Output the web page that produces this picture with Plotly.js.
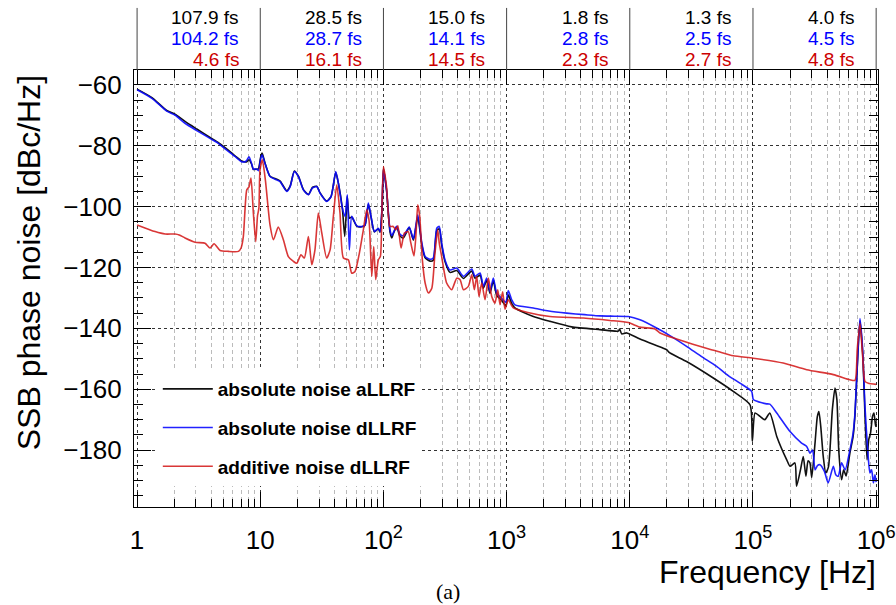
<!DOCTYPE html>
<html><head><meta charset="utf-8">
<script src="https://cdn.plot.ly/plotly-3.0.1.min.js"></script>
<style>html,body{margin:0;padding:0;background:#fff}#chart{width:896px;height:605px}</style>
</head><body><div id="chart"></div>
<script>
// ---- data ----
const seriesNames = ['absolute noise aLLRF', 'absolute noise dLLRF', 'additive noise dLLRF'];

const freqAbsA = [1.0,1.32,1.74,2.03,2.45,3.05,4.03,4.57,5.18,6.24,7.08,7.7,8.11,8.5,8.79,9.3,9.66,10.1,10.35,10.9,12.0,13.6,14.5,16.4,17.5,18.9,20.4,22.4,24.6,26.5,28.7,30.6,34.6,37.6,41.0,43.1,46.4,48.5,50.9,52.9,55.3,60.7,66.7,70.9,75.4,79.3,84.4,90.9,93.8,97.5,100,106,113,117,120,128,136,145,162,175,190,205,218,239,254,271,284,297,316,347,394,446,521,554,609,647,689,733,780,831,912,985,1032,1099,1169,1648,2250,3370,5730,8070,8270,8590,9430,12100,18700,19900,21000,28900,47600,69200,94600,98800,104000,114000,125000,137000,156000,188000,200000,219000,226000,243000,256000,269000,280000,290000,300000,319000,333000,343000,355000,372000,390000,410000,441000,463000,480000,497000,524000,545000,570000,612000,650000,673000,702000,739000,777000,811000,843000,870000,900000,935000,960000,990000,1000000];
const noiseAbsA = [-61.4,-64.2,-68.4,-69.6,-72.0,-74.5,-77.6,-79.0,-80.6,-83.3,-85.0,-85.3,-84.6,-86.0,-87.8,-87.7,-87.6,-83.5,-82.4,-85.5,-90.0,-91.0,-91.6,-94.8,-93.2,-88.3,-90.0,-94.4,-96.0,-93.7,-93.3,-95.5,-98.2,-96.6,-88.7,-92.4,-100.6,-109.8,-96.8,-103.8,-103.4,-106.4,-106.6,-106.1,-99.2,-103.4,-108.3,-107.3,-108.4,-100.5,-87.5,-94.7,-108.3,-110.3,-109.0,-106.6,-109.6,-110.3,-106.9,-111.0,-103.5,-112.6,-116.8,-117.9,-117.6,-107.8,-107.3,-112.6,-118.0,-121.6,-121.0,-123.6,-121.2,-123.5,-122.5,-126.8,-124.2,-128.5,-124.3,-129.2,-130.8,-132.6,-129.0,-131.8,-133.3,-136.1,-137.7,-139.5,-140.4,-140.9,-140.2,-141.8,-141.5,-143.5,-146.5,-147.0,-148.0,-150.9,-156.3,-160.7,-165.1,-177.1,-167.8,-168.9,-170.0,-167.8,-175.5,-183.2,-185.3,-184.2,-191.9,-186.5,-182.1,-188.6,-183.5,-184.2,-189.0,-177.7,-169.0,-167.3,-172.2,-182.1,-187.5,-185.5,-166.7,-159.6,-163.4,-180.0,-189.7,-186.5,-188.5,-181.0,-175.5,-168.5,-153.0,-137.5,-148.0,-168.0,-183.2,-176.6,-174.4,-168.9,-167.8,-172.2,-170.5];

const freqAbsD = [1.0,1.32,1.74,2.03,2.45,3.05,4.03,4.57,5.18,6.24,7.08,7.7,8.11,8.5,8.79,9.3,9.66,10.1,10.35,10.9,12.0,13.6,14.5,16.4,17.5,18.9,20.4,22.4,24.6,26.5,28.7,30.6,34.6,37.6,41.0,43.1,46.4,48.8,50.9,52.9,55.3,60.7,66.7,70.9,75.4,79.3,84.4,90.9,93.8,97.5,100,106,113,117,120,128,136,145,162,175,190,205,218,239,254,271,284,297,316,347,394,446,521,554,609,647,689,733,780,831,930,985,1032,1099,1169,1648,2200,3077,4300,5730,7500,9730,12100,16500,21000,28900,38000,50700,63000,78400,97500,100700,114000,129000,137000,156000,200000,248000,273000,290000,305000,319000,335000,350000,380000,408000,449000,470000,492000,524000,560000,612000,650000,673000,702000,739000,777000,811000,863000,890000,919000,950000,978000,1000000];
const noiseAbsD = [-61.6,-64.4,-68.6,-69.9,-72.6,-75.0,-77.9,-79.2,-81.0,-83.5,-85.3,-85.0,-83.6,-85.8,-87.7,-87.6,-88.2,-84.0,-83.0,-85.7,-90.1,-91.2,-91.8,-95.0,-93.4,-88.5,-90.1,-94.5,-96.1,-93.9,-93.4,-95.6,-98.3,-96.7,-88.5,-92.3,-100.5,-103.2,-96.1,-114.2,-103.2,-106.3,-106.5,-106.0,-98.8,-103.2,-108.2,-107.1,-108.2,-100.0,-87.8,-94.5,-107.6,-109.5,-108.7,-106.5,-109.0,-109.6,-106.7,-110.6,-102.7,-112.0,-116.4,-117.3,-116.9,-107.1,-106.5,-112.0,-117.5,-120.8,-120.2,-122.9,-120.5,-122.9,-121.8,-126.2,-123.5,-127.9,-123.5,-128.4,-130.5,-131.5,-127.6,-130.6,-132.3,-133.3,-134.3,-135.0,-135.5,-135.9,-136.0,-136.1,-137.2,-139.9,-142.3,-145.9,-149.2,-152.5,-155.5,-158.0,-160.7,-163.4,-164.3,-164.8,-164.9,-167.8,-173.9,-177.7,-178.8,-181.0,-180.0,-186.5,-185.0,-184.8,-187.0,-190.8,-185.3,-188.1,-188.6,-184.2,-186.5,-180.0,-174.4,-167.8,-152.5,-136.8,-147.0,-165.6,-182.5,-187.5,-186.5,-190.8,-188.1,-190.5];

const freqAdd = [1.0,1.40,1.69,2.03,2.2,2.45,2.96,3.56,3.91,4.22,4.72,5.51,6.64,7.0,7.29,7.77,8.1,8.41,8.79,9.19,9.5,9.75,9.95,10.4,11.0,12.0,12.8,14.0,15.4,16.9,18.6,19.8,21.4,22.8,24.6,26.2,27.8,29.6,31.6,34.6,36.9,39.2,41.8,44.4,47.3,51.9,55.3,58.8,64.5,68.7,73.1,76.4,80.4,83.4,86.6,90.9,94.4,97,100,106,113,120,126,131,139,148,159,167,177,184,190,197,207,218,232,247,262,276,284,297,326,358,394,419,446,489,521,547,572,597,628,668,711,757,805,847,884,929,970,1032,1135,1456,2250,4200,6900,9730,12100,16000,17600,24000,36900,45900,52000,69200,100700,176000,273000,449000,612000,673000,702000,739000,777000,811000,863000,1000000];
const noiseAdd = [-106.0,-108.2,-109.0,-109.0,-109.3,-110.3,-111.7,-112.0,-113.6,-112.2,-114.4,-114.7,-114.7,-113.5,-109.8,-94.5,-93.5,-90.6,-102.1,-111.5,-103.0,-100.5,-88.0,-84.6,-91.2,-106.0,-110.9,-106.7,-110.9,-116.4,-118.0,-118.6,-115.8,-116.9,-109.8,-119.1,-114.2,-102.1,-108.7,-116.9,-114.2,-103.2,-92.8,-102.1,-116.9,-117.5,-121.9,-121.3,-114.2,-107.6,-101.0,-104.5,-122.9,-113.1,-124.0,-117.5,-116.4,-103.0,-86.8,-93.4,-106.5,-106.5,-107.6,-106.3,-113.6,-108.7,-108.2,-112.0,-116.2,-108.7,-99.4,-103.2,-117.5,-125.1,-128.4,-126.8,-115.3,-107.6,-112.0,-116.4,-125.1,-127.3,-123.5,-124.0,-127.3,-126.2,-122.4,-127.3,-122.9,-129.5,-125.1,-130.6,-123.5,-129.5,-131.7,-127.3,-132.2,-128.0,-133.7,-130.6,-133.3,-134.7,-136.1,-136.6,-137.4,-138.1,-139.6,-140.2,-141.5,-143.5,-145.9,-147.0,-147.6,-149.0,-149.8,-151.4,-153.6,-155.2,-156.9,-157.1,-147.0,-138.3,-149.2,-157.4,-158.0,-158.4];

// integrated jitter per decade (top labels)
const decadeEdges = [1, 10, 100, 1e3, 1e4, 1e5, 1e6];
const jitterAbsA = [107.9, 28.5, 15.0, 1.8, 1.3, 4.0];
const jitterAbsD = [104.2, 28.7, 14.1, 2.8, 2.5, 4.5];
const jitterAdd  = [4.6, 16.1, 14.5, 2.3, 2.7, 4.8];

const xTickText = ['1', '10', '10<sup>2</sup>', '10<sup>3</sup>', '10<sup>4</sup>', '10<sup>5</sup>', '10<sup>6</sup>'];
const yTicks = [-60, -80, -100, -120, -140, -160, -180];

// ---- styling ----
const colBlack = '#111111', colBlue = 'rgba(10,10,255,0.9)', colRed = 'rgba(210,20,20,0.85)';
const txtBlack = '#000000', txtBlue = '#0000ff', txtRed = '#cc0000';
const FONT = 'Liberation Sans, Arial, Helvetica, sans-serif';

const traces = [
  {x: freqAbsA, y: noiseAbsA, name: seriesNames[0], color: colBlack},
  {x: freqAbsD, y: noiseAbsD, name: seriesNames[1], color: colBlue},
  {x: freqAdd,  y: noiseAdd,  name: seriesNames[2], color: colRed}
].map((s, i) => ({
  type: 'scatter', mode: 'lines', x: s.x, y: s.y, name: s.name,
  legendgroup: 'g' + i,
  line: {color: s.color, width: 1.6, shape: 'spline', smoothing: 0.6}
}));

const minorVals = [];
decadeEdges.slice(0, -1).forEach(d => { for (let k = 2; k <= 9; k++) minorVals.push(d * k); });

const annotations = [];
const rows = [[jitterAbsA, txtBlack, 1.121], [jitterAbsD, txtBlue, 1.071], [jitterAdd, txtRed, 1.023]];
rows.forEach(([vals, col, yy]) => {
  vals.forEach((v, i) => {
    annotations.push({
      xref: 'x', yref: 'paper', x: Math.log10(decadeEdges[i + 1]) - 0.16, y: yy,
      xanchor: 'right', yanchor: 'middle', showarrow: false,
      text: v.toFixed(1) + ' fs', font: {family: FONT, size: 19, color: col}
    });
  });
});
annotations.push({xref: 'paper', yref: 'paper', x: 1, y: -0.149, xanchor: 'right', yanchor: 'middle',
  showarrow: false, text: 'Frequency [Hz]', font: {family: FONT, size: 32, color: '#000'}});
annotations.push({xref: 'paper', yref: 'paper', x: -0.141, y: 0.558, xanchor: 'center', yanchor: 'middle',
  textangle: -90, showarrow: false, text: 'SSB phase noise [dBc/Hz]', font: {family: FONT, size: 32, color: '#000'}});
annotations.push({xref: 'paper', yref: 'paper', x: 0.422, y: -0.1945, xanchor: 'center', yanchor: 'middle',
  showarrow: false, text: '(a)', font: {family: 'Liberation Serif, Times New Roman, serif', size: 22, color: '#000'}});

const shapes = decadeEdges.map(d => ({
  type: 'line', xref: 'x', yref: 'paper', x0: d, x1: d, y0: 1, y1: 1.142,
  line: {color: '#444', width: 1}
}));

const layout = {
  width: 896, height: 605,
  margin: {l: 134, r: 18, t: 70, b: 98},
  paper_bgcolor: '#fff', plot_bgcolor: '#fff',
  showlegend: true,
  legend: {x: 0.032, y: 0.3135, xanchor: 'left', yanchor: 'top', bgcolor: '#fff', borderwidth: 0,
    font: {family: FONT, size: 19, color: '#000', weight: 'bold'}, tracegroupgap: 11, itemwidth: 50},
  xaxis: {
    type: 'log', range: [-0.025, 6.015], tickvals: decadeEdges, ticktext: xTickText,
    ticks: 'inside', ticklen: 15, tickcolor: '#000', tickwidth: 1,
    showline: true, linecolor: '#000', linewidth: 1, mirror: 'ticks',
    showgrid: true, gridcolor: '#333', griddash: '3px,3px', gridwidth: 1,
    minor: {tickvals: minorVals, ticks: 'inside', ticklen: 8, tickcolor: '#000', showgrid: true,
      gridcolor: '#bbb', griddash: '4px,3px', gridwidth: 1},
    tickfont: {family: FONT, size: 26, color: '#000'}, ticklabelstandoff: 10, zeroline: false
  },
  yaxis: {
    range: [-198.7, -55.1], tickvals: yTicks,
    ticks: 'inside', ticklen: 17, tickcolor: '#000', tickwidth: 1,
    showline: true, linecolor: '#000', linewidth: 1, mirror: 'ticks',
    showgrid: true, gridcolor: '#333', griddash: '3px,3px', gridwidth: 1,
    minor: {dtick: 5, ticks: 'inside', ticklen: 9, tickcolor: '#000', showgrid: false},
    tickfont: {family: FONT, size: 26, color: '#000'}, ticklabelstandoff: 6, zeroline: false
  },
  annotations: annotations,
  shapes: shapes
};

Plotly.newPlot('chart', traces, layout, {displayModeBar: false, staticPlot: true});
</script>
</body></html>
